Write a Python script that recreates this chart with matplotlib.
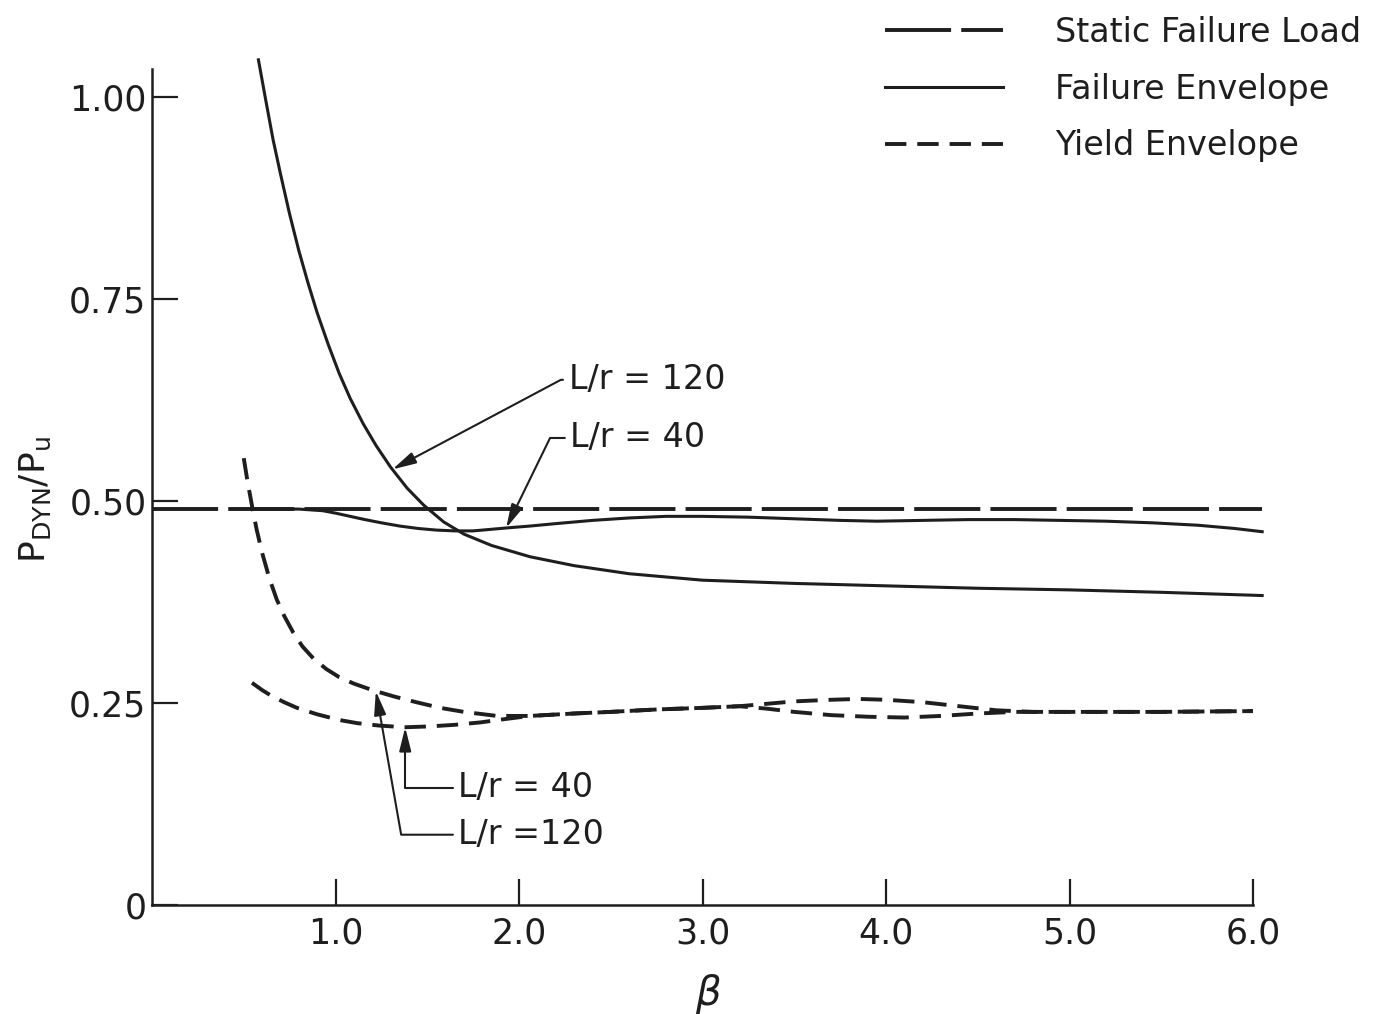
"dynamic load ratio vs beta, failure and yield envelopes"
import numpy as np
import matplotlib
matplotlib.use("Agg")
from matplotlib import pyplot as plt

plt.rcParams['font.family'] = ['DejaVu Sans']

INK = '#1e1e1e'

# static failure load (horizontal reference)
STATIC_BETA = [0.0, 6.05]
STATIC_LOAD = [0.49, 0.49]

# failure envelope, L/r = 40
FAIL40_BETA = [0.55, 0.80, 0.93, 1.00, 1.08, 1.16, 1.25, 1.35, 1.45, 1.55, 1.65,
               1.75, 1.85, 1.95, 2.06, 2.20, 2.40, 2.60, 2.80, 3.00, 3.25, 3.50,
               3.75, 3.95, 4.20, 4.45, 4.70, 4.95, 5.20, 5.45, 5.70, 5.90, 6.05]
FAIL40_LOAD = [0.490, 0.490, 0.488, 0.485, 0.481, 0.477, 0.473, 0.469, 0.466,
               0.464, 0.463, 0.463, 0.465, 0.467, 0.469, 0.472, 0.476, 0.479,
               0.481, 0.481, 0.480, 0.478, 0.476, 0.475, 0.476, 0.477, 0.477,
               0.476, 0.475, 0.473, 0.470, 0.466, 0.462]

# failure envelope, L/r = 120
FAIL120_BETA = [0.58, 0.62, 0.66, 0.70, 0.75, 0.80, 0.85, 0.90, 0.96, 1.02, 1.08,
                1.15, 1.22, 1.30, 1.39, 1.48, 1.59, 1.70, 1.85, 2.06, 2.30, 2.60,
                3.00, 3.50, 4.00, 4.50, 5.00, 5.50, 6.05]
FAIL120_LOAD = [1.046, 0.996, 0.947, 0.905, 0.855, 0.810, 0.770, 0.733, 0.694,
                0.658, 0.627, 0.596, 0.569, 0.542, 0.516, 0.495, 0.474, 0.459,
                0.445, 0.431, 0.420, 0.410, 0.402, 0.398, 0.395, 0.392, 0.390,
                0.387, 0.383]

# yield envelope, L/r = 40
YIELD40_BETA = [0.545, 0.60, 0.65, 0.72, 0.79, 0.90, 1.02, 1.12, 1.24, 1.38, 1.51,
                1.65, 1.79, 1.92, 2.06, 2.30, 2.50, 2.75, 3.00, 3.20, 3.35, 3.50,
                3.70, 3.90, 4.10, 4.30, 4.50, 4.70, 5.00, 5.50, 6.00]
YIELD40_LOAD = [0.275, 0.266, 0.259, 0.251, 0.244, 0.236, 0.229, 0.225, 0.222,
                0.220, 0.221, 0.223, 0.226, 0.230, 0.234, 0.237, 0.239, 0.242,
                0.244, 0.246, 0.243, 0.239, 0.235, 0.233, 0.232, 0.234, 0.237,
                0.239, 0.239, 0.239, 0.240]

# yield envelope, L/r = 120
YIELD120_BETA = [0.50, 0.52, 0.545, 0.57, 0.60, 0.64, 0.68, 0.72, 0.77, 0.82, 0.88,
                 0.95, 1.02, 1.10, 1.20, 1.32, 1.44, 1.57, 1.70, 1.88, 2.06, 2.30,
                 2.50, 2.75, 3.00, 3.20, 3.35, 3.50, 3.70, 3.85, 4.00, 4.20, 4.40,
                 4.60, 4.80, 5.00, 5.50, 6.00]
YIELD120_LOAD = [0.553, 0.525, 0.494, 0.465, 0.436, 0.404, 0.378, 0.358, 0.337,
                 0.320, 0.305, 0.292, 0.282, 0.274, 0.266, 0.258, 0.251, 0.244,
                 0.239, 0.234, 0.234, 0.237, 0.239, 0.242, 0.244, 0.246, 0.249,
                 0.252, 0.254, 0.255, 0.254, 0.251, 0.246, 0.241, 0.239, 0.239,
                 0.239, 0.240]

YTICKS = [0, 0.25, 0.50, 0.75, 1.00]
YTICK_LABELS = ['0', '0.25', '0.50', '0.75', '1.00']
XTICKS = [1.0, 2.0, 3.0, 4.0, 5.0, 6.0]
XTICK_LABELS = ['1.0', '2.0', '3.0', '4.0', '5.0', '6.0']

fig = plt.figure(figsize=(13.79, 10.14), dpi=100)
ax = fig.add_axes([152 / 1379, 109 / 1014, 6.1 * 183.5 / 1379, 1.06 * 808 / 1014])

static_dash = (0, (17, 2.6))
yield_dash = (0, (5.5, 2.8))

ax.plot(STATIC_BETA, STATIC_LOAD, color=INK, lw=2.8, linestyle=static_dash,
        label='Static Failure Load')
ax.plot(FAIL120_BETA, FAIL120_LOAD, color=INK, lw=2.2, label='Failure Envelope')
ax.plot(FAIL40_BETA, FAIL40_LOAD, color=INK, lw=2.2)
ax.plot(YIELD120_BETA, YIELD120_LOAD, color=INK, lw=2.8, linestyle=yield_dash,
        label='Yield Envelope')
ax.plot(YIELD40_BETA, YIELD40_LOAD, color=INK, lw=2.8, linestyle=yield_dash)

ax.set_xlim(0, 6.1)
ax.set_ylim(0, 1.06)
for side in ('top', 'right'):
    ax.spines[side].set_visible(False)
ax.spines['left'].set_bounds(0, 1.035)
ax.spines['bottom'].set_bounds(0, 6.0)
for side in ('left', 'bottom'):
    ax.spines[side].set_linewidth(1.8)
    ax.spines[side].set_color(INK)

ax.set_yticks(YTICKS, YTICK_LABELS)
ax.set_xticks(XTICKS, XTICK_LABELS)
ax.tick_params(direction='in', length=19, width=1.6, color=INK,
               labelsize=25, labelcolor=INK)
ax.tick_params(axis='y', pad=4)
ax.tick_params(axis='x', pad=8)

ax.set_ylabel(r'$\mathregular{P_{DYN}/P_u}$', fontsize=26, color=INK)
ax.yaxis.set_label_coords(-0.088, 0.473)
ax.set_xlabel('β', fontsize=29, style='italic', color=INK)
ax.xaxis.set_label_coords(0.497, -0.08)


def leader(text, tip_beta, beta, load, text_xy, angle):
    tip = (tip_beta, np.interp(tip_beta, beta, load))
    ax.annotate(text, xy=tip, xytext=text_xy, fontsize=24, color=INK,
                va='center', ha='left',
                arrowprops=dict(arrowstyle='-|>,head_length=0.6,head_width=0.15',
                                color=INK, lw=1.5, shrinkA=2, shrinkB=0,
                                relpos=(0, 0.5),
                                connectionstyle=f'angle,angleA=0,angleB={angle},rad=0'))


leader('L/r = 120', 1.31, FAIL120_BETA, FAIL120_LOAD, (2.27, 0.650), 28)
leader('L/r = 40', 1.93, FAIL40_BETA, FAIL40_LOAD, (2.28, 0.578), 64)
leader('L/r = 40', 1.38, YIELD40_BETA, YIELD40_LOAD, (1.67, 0.145), 90)
leader('L/r =120', 1.22, YIELD120_BETA, YIELD120_LOAD, (1.67, 0.087), -80)

fig.legend(loc='upper left', bbox_to_anchor=(885 / 1379, 1 - 16 / 1014),
           frameon=False, fontsize=24, handlelength=3.55, handletextpad=1.55,
           labelspacing=0.71, borderpad=0, borderaxespad=0, labelcolor=INK)

fig.savefig('out.png', dpi=100, facecolor='white')
